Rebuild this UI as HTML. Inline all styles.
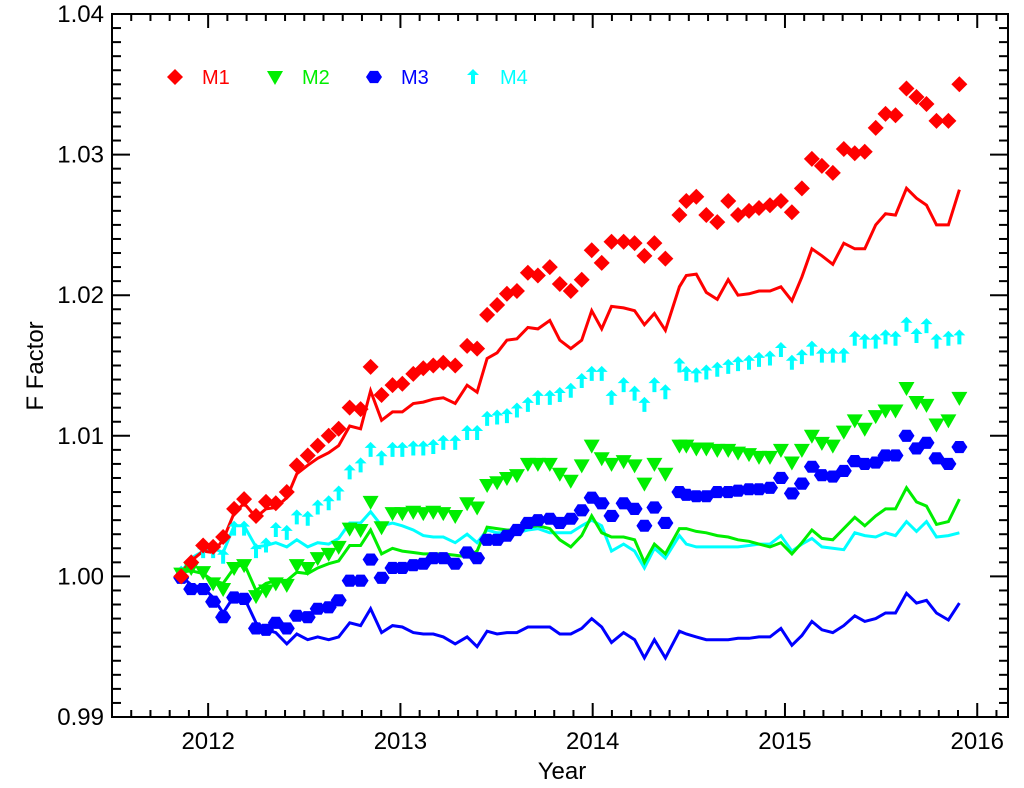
<!DOCTYPE html>
<html><head><meta charset="utf-8"><style>
html,body{margin:0;padding:0;background:#fff;}
svg{display:block;font-family:"Liberation Sans",Arial,sans-serif;}
</style></head><body>
<svg id="chart" width="1024" height="788" viewBox="0 0 1024 788" xmlns="http://www.w3.org/2000/svg">
<rect x="0" y="0" width="1024" height="788" fill="#fff"/>
<g id="series"></g>
<g id="axes"></g>
<g id="legend"></g>
<text x="562" y="779" font-size="24" text-anchor="middle">Year</text>
<text x="0" y="0" font-size="24" text-anchor="middle" transform="translate(43,366) rotate(-90)">F Factor</text>
</svg>
<script>
const dates=[2011.860,2011.912,2011.974,2012.026,2012.078,2012.135,2012.187,2012.249,2012.301,2012.352,2012.409,2012.461,2012.518,2012.570,2012.627,2012.679,2012.736,2012.793,2012.845,2012.902,2012.959,2013.010,2013.067,2013.119,2013.171,2013.223,2013.285,2013.347,2013.399,2013.451,2013.503,2013.554,2013.606,2013.663,2013.715,2013.777,2013.829,2013.886,2013.943,2013.995,2014.047,2014.098,2014.161,2014.218,2014.269,2014.321,2014.378,2014.451,2014.487,2014.539,2014.591,2014.648,2014.705,2014.756,2014.813,2014.865,2014.922,2014.979,2015.036,2015.088,2015.140,2015.192,2015.249,2015.306,2015.363,2015.415,2015.472,2015.523,2015.575,2015.632,2015.684,2015.736,2015.788,2015.850,2015.907];
const m1Points=[1.0000,1.0010,1.0022,1.0021,1.0028,1.0048,1.0055,1.0043,1.0053,1.0052,1.0060,1.0079,1.0086,1.0093,1.0100,1.0105,1.0120,1.0119,1.0149,1.0129,1.0136,1.0137,1.0144,1.0148,1.0150,1.0152,1.0150,1.0164,1.0162,1.0186,1.0193,1.0201,1.0203,1.0216,1.0214,1.0220,1.0208,1.0203,1.0211,1.0232,1.0223,1.0238,1.0238,1.0237,1.0228,1.0237,1.0226,1.0257,1.0267,1.0270,1.0257,1.0252,1.0267,1.0257,1.0260,1.0262,1.0264,1.0267,1.0259,1.0276,1.0297,1.0292,1.0287,1.0304,1.0301,1.0302,1.0319,1.0329,1.0328,1.0347,1.0341,1.0336,1.0324,1.0324,1.0350];
const m1Line=[1.0003,1.0011,1.0018,1.0017,1.0026,1.0045,1.0052,1.0042,1.0048,1.0049,1.0056,1.0073,1.0079,1.0084,1.0088,1.0093,1.0107,1.0105,1.0132,1.0111,1.0117,1.0117,1.0123,1.0124,1.0126,1.0127,1.0123,1.0136,1.0131,1.0155,1.0159,1.0168,1.0169,1.0177,1.0176,1.0182,1.0168,1.0162,1.0168,1.0189,1.0176,1.0192,1.0191,1.0189,1.0179,1.0187,1.0175,1.0206,1.0214,1.0215,1.0202,1.0197,1.0211,1.0200,1.0201,1.0203,1.0203,1.0206,1.0196,1.0213,1.0233,1.0228,1.0222,1.0237,1.0233,1.0233,1.0250,1.0258,1.0257,1.0276,1.0269,1.0264,1.0250,1.0250,1.0275];
const m2Points=[1.0002,1.0006,1.0003,0.9995,0.9991,1.0006,1.0008,0.9986,0.9990,0.9995,0.9994,1.0008,1.0006,1.0013,1.0016,1.0021,1.0034,1.0033,1.0053,1.0035,1.0045,1.0045,1.0046,1.0045,1.0046,1.0045,1.0043,1.0052,1.0049,1.0065,1.0067,1.0070,1.0072,1.0080,1.0080,1.0080,1.0073,1.0068,1.0079,1.0093,1.0084,1.0080,1.0082,1.0079,1.0066,1.0080,1.0073,1.0093,1.0093,1.0091,1.0091,1.0090,1.0090,1.0088,1.0087,1.0085,1.0085,1.0090,1.0081,1.0090,1.0100,1.0095,1.0093,1.0103,1.0111,1.0105,1.0114,1.0118,1.0118,1.0134,1.0124,1.0122,1.0108,1.0111,1.0127];
const m2Line=[1.0003,1.0004,1.0002,0.9997,0.9995,1.0006,1.0009,0.9990,0.9995,0.9997,0.9997,1.0003,1.0002,1.0006,1.0009,1.0011,1.0022,1.0022,1.0033,1.0016,1.0020,1.0018,1.0017,1.0016,1.0016,1.0016,1.0015,1.0014,1.0018,1.0035,1.0034,1.0033,1.0033,1.0035,1.0036,1.0034,1.0026,1.0021,1.0029,1.0043,1.0031,1.0028,1.0028,1.0026,1.0010,1.0023,1.0016,1.0034,1.0034,1.0032,1.0031,1.0029,1.0028,1.0026,1.0025,1.0023,1.0021,1.0024,1.0016,1.0024,1.0033,1.0027,1.0026,1.0034,1.0042,1.0036,1.0043,1.0048,1.0048,1.0063,1.0053,1.0050,1.0037,1.0039,1.0055];
const m3Points=[0.9999,0.9991,0.9991,0.9982,0.9971,0.9985,0.9984,0.9963,0.9962,0.9967,0.9963,0.9972,0.9971,0.9977,0.9978,0.9983,0.9997,0.9997,1.0012,0.9999,1.0006,1.0006,1.0008,1.0009,1.0013,1.0013,1.0009,1.0017,1.0013,1.0026,1.0026,1.0029,1.0033,1.0038,1.0040,1.0041,1.0038,1.0041,1.0047,1.0056,1.0052,1.0043,1.0052,1.0048,1.0036,1.0049,1.0038,1.0060,1.0058,1.0057,1.0057,1.0060,1.0060,1.0061,1.0062,1.0062,1.0063,1.0070,1.0059,1.0066,1.0078,1.0072,1.0071,1.0075,1.0082,1.0080,1.0081,1.0086,1.0086,1.0100,1.0091,1.0095,1.0084,1.0080,1.0092];
const m3Line=[1.0000,0.9994,0.9992,0.9985,0.9974,0.9986,0.9985,0.9967,0.9962,0.9960,0.9952,0.9959,0.9955,0.9957,0.9955,0.9957,0.9967,0.9965,0.9977,0.9960,0.9965,0.9964,0.9960,0.9959,0.9959,0.9957,0.9952,0.9957,0.9950,0.9961,0.9959,0.9960,0.9960,0.9964,0.9964,0.9964,0.9959,0.9959,0.9963,0.9970,0.9964,0.9953,0.9960,0.9955,0.9942,0.9955,0.9942,0.9961,0.9959,0.9957,0.9955,0.9955,0.9955,0.9956,0.9956,0.9957,0.9957,0.9963,0.9951,0.9958,0.9968,0.9962,0.9960,0.9965,0.9972,0.9968,0.9970,0.9974,0.9974,0.9988,0.9981,0.9983,0.9974,0.9969,0.9981];
const m4Points=[1.0002,1.0009,1.0018,1.0018,1.0014,1.0034,1.0034,1.0018,1.0022,1.0033,1.0031,1.0042,1.0041,1.0049,1.0052,1.0059,1.0074,1.0079,1.0090,1.0084,1.0090,1.0090,1.0091,1.0091,1.0092,1.0095,1.0095,1.0102,1.0102,1.0112,1.0113,1.0114,1.0118,1.0122,1.0127,1.0127,1.0129,1.0132,1.0139,1.0144,1.0144,1.0127,1.0136,1.0130,1.0122,1.0136,1.0131,1.0150,1.0144,1.0143,1.0145,1.0147,1.0149,1.0151,1.0152,1.0154,1.0155,1.0161,1.0152,1.0156,1.0162,1.0157,1.0157,1.0157,1.0169,1.0167,1.0167,1.0170,1.0169,1.0179,1.0171,1.0178,1.0167,1.0169,1.0170];
const m4Line=[1.0003,1.0013,1.0018,1.0020,1.0017,1.0036,1.0036,1.0021,1.0022,1.0024,1.0021,1.0026,1.0021,1.0024,1.0023,1.0027,1.0038,1.0038,1.0046,1.0036,1.0038,1.0036,1.0033,1.0029,1.0028,1.0028,1.0024,1.0030,1.0024,1.0033,1.0031,1.0031,1.0031,1.0033,1.0034,1.0031,1.0031,1.0031,1.0036,1.0040,1.0036,1.0018,1.0023,1.0018,1.0006,1.0020,1.0013,1.0029,1.0023,1.0021,1.0021,1.0021,1.0021,1.0021,1.0022,1.0023,1.0023,1.0029,1.0018,1.0023,1.0027,1.0021,1.0020,1.0019,1.0031,1.0029,1.0028,1.0031,1.0029,1.0039,1.0032,1.0039,1.0028,1.0029,1.0031];
const yTickLabels=["0.99","1.00","1.01","1.02","1.03","1.04"];
const yTickValues=[0.99,1.00,1.01,1.02,1.03,1.04];
const xTickLabels=["2012","2013","2014","2015","2016"];
const xTickValues=[2012,2013,2014,2015,2016];
const legendNames=["M1","M2","M3","M4"];

const NS="http://www.w3.org/2000/svg";
const L=112,R=1008,T=14,B=717;
const X0=2011.5,X1=2016.16,Y0=0.99,Y1=1.04;
function xs(v){return L+(v-X0)/(X1-X0)*(R-L);}
function ys(v){return B-(v-Y0)/(Y1-Y0)*(B-T);}
function mk(tag,attrs,parent){const e=document.createElementNS(NS,tag);for(const k in attrs)e.setAttribute(k,attrs[k]);parent.appendChild(e);return e;}
const series=document.getElementById('series');
const axes=document.getElementById('axes');
const legend=document.getElementById('legend');

function marker(type,cx,cy,color,parent){
  let e;
  if(type==='diamond'){
    e=mk('polygon',{points:`${cx},${cy-8} ${cx+8},${cy} ${cx},${cy+8} ${cx-8},${cy}`,fill:color},parent);
  }else if(type==='tri'){
    e=mk('polygon',{points:`${cx-8},${cy-6} ${cx+8},${cy-6} ${cx},${cy+8}`,fill:color},parent);
  }else if(type==='hex'){
    let p=[];for(let k=0;k<6;k++){const a=Math.PI/3*k;p.push((cx+8*Math.cos(a)).toFixed(1)+','+(cy+7*Math.sin(a)).toFixed(1));}
    e=mk('polygon',{points:p.join(' '),fill:color},parent);
  }else{
    e=mk('polygon',{points:`${cx},${cy-8} ${cx+6},${cy-2} ${cx+2},${cy-2} ${cx+2},${cy+7} ${cx-2},${cy+7} ${cx-2},${cy-2} ${cx-6},${cy-2}`,fill:color},parent);
  }
  return e;
}
const defs=[
 {name:'m1',pts:m1Points,line:m1Line,color:'#ff0000',type:'diamond'},
 {name:'m2',pts:m2Points,line:m2Line,color:'#00ee00',type:'tri'},
 {name:'m3',pts:m3Points,line:m3Line,color:'#0000ff',type:'hex'},
 {name:'m4',pts:m4Points,line:m4Line,color:'#00ffff',type:'arrow'}
];
defs.slice().reverse().forEach(d=>{
  const pl=mk('polyline',{points:d.line.map((v,i)=>xs(dates[i]).toFixed(1)+','+ys(v).toFixed(1)).join(' '),fill:'none',stroke:d.color,'stroke-width':3,'stroke-linejoin':'miter'},series);
  
  
});
defs.slice().reverse().forEach(d=>{
  const g=mk('g',{},series);
  
  
  d.pts.forEach((v,i)=>{
    const m=marker(d.type,xs(dates[i]),ys(v),d.color,g);
    
    
  });
});
const fr=mk('rect',{x:L,y:T,width:R-L,height:B-T,fill:'none',stroke:'#000','stroke-width':2},axes);


for(let k=0;k<=50;k++){
  const v=Y0+k*0.001;const y=ys(v);const major=(k%10===0);const len=major?18:9;
  const t1=mk('line',{x1:L,x2:L+len,y1:y,y2:y,stroke:'#000','stroke-width':2},axes);
  
  
  const t2=mk('line',{x1:R,x2:R-len,y1:y,y2:y,stroke:'#000','stroke-width':2},axes);
  
  
}
yTickValues.forEach((v,i)=>{
  const t=mk('text',{x:104,y:ys(v)+8,'font-size':24,'text-anchor':'end',fill:'#000'},axes);
  t.textContent=yTickLabels[i];
  
  
});
for(let k=0;;k++){
  const v=2011.6+k*0.1;if(v>X1)break;const x=xs(v);
  const major=Math.abs(v-Math.round(v))<0.01;const len=major?14:7;
  const t1=mk('line',{x1:x,x2:x,y1:B,y2:B-len,stroke:'#000','stroke-width':2},axes);
  
  
  const t2=mk('line',{x1:x,x2:x,y1:T,y2:T+len,stroke:'#000','stroke-width':2},axes);
  
  
}
xTickValues.forEach((v,i)=>{
  const t=mk('text',{x:xs(v),y:749,'font-size':24,'text-anchor':'middle',fill:'#000'},axes);
  t.textContent=xTickLabels[i];
  
  
});
const lx=[175,275,374,473];
defs.forEach((d,i)=>{
  const g=mk('g',{},legend);
  
  
  marker(d.type,lx[i],77,d.color,g);
  const t=mk('text',{x:lx[i]+27,y:84,'font-size':20,fill:d.color},g);
  t.textContent=legendNames[i];
});
</script>
</body></html>
